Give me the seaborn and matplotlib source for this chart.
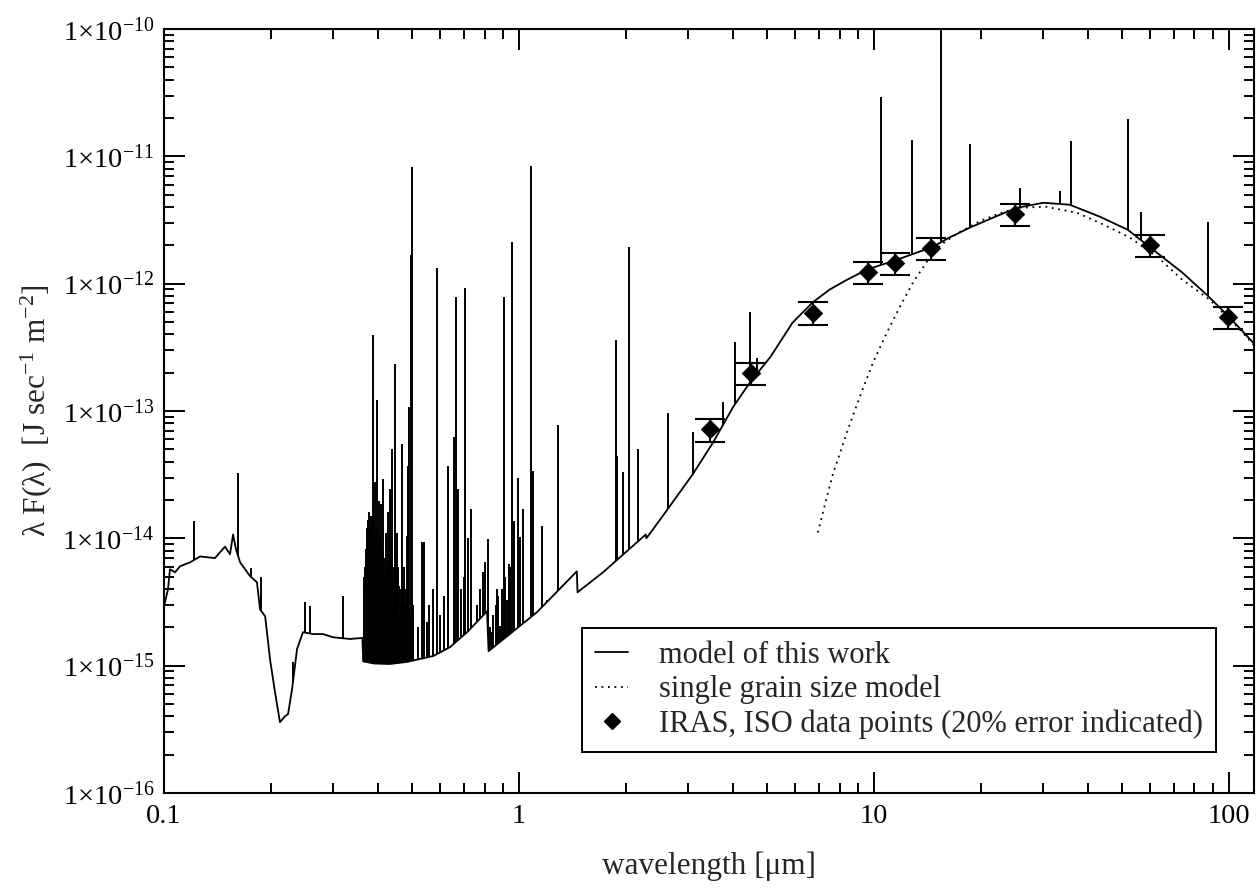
import numpy as np
import matplotlib
matplotlib.use('Agg')
import matplotlib.pyplot as plt
import seaborn as sns
from matplotlib.lines import Line2D
from matplotlib.ticker import LogLocator, NullFormatter

# model of this work: continuum (wavelength in micron, lambda F(lambda) in J/s/m^2)
cont_wl = [0.1, 0.1026, 0.1039, 0.1074, 0.1109, 0.1184, 0.1263, 0.1392, 0.1485, 0.1534,
           0.1565, 0.1595, 0.1638, 0.1747, 0.1827, 0.1864, 0.1927, 0.1989, 0.2054, 0.2121,
           0.2192, 0.2236, 0.2295, 0.2370, 0.2462, 0.2627, 0.2805, 0.2994, 0.3339, 0.3620,
           0.3640, 0.3900, 0.4327, 0.4838, 0.5734, 0.6397, 0.7141, 0.8128, 0.8210, 1.124,
           1.455, 1.462, 1.724, 2.275, 2.285, 2.538, 3.086, 3.522, 4.016, 4.490,
           5.115, 5.898, 6.71, 7.5, 8.38, 9.55, 11.6, 14.67, 16.3, 18.6,
           22.6, 25.3, 30.0, 35.6, 43.4, 51.9, 59.7, 74.0, 87.8, 100.0, 120.0]
cont_f = [2.93e-15, 3.98e-15, 5.71e-15, 5.41e-15, 6.03e-15, 6.48e-15, 7.2e-15, 7.0e-15, 8.6e-15, 7.5e-15,
          1.07e-14, 8.2e-15, 6.48e-15, 5.04e-15, 4.52e-15, 2.77e-15, 2.44e-15, 1.12e-15, 6.2e-16, 3.6e-16,
          4.0e-16, 4.17e-16, 6.55e-16, 1.35e-15, 1.83e-15, 1.77e-15, 1.77e-15, 1.67e-15, 1.62e-15, 1.65e-15,
          1.08e-15, 1.04e-15, 1.03e-15, 1.07e-15, 1.19e-15, 1.40e-15, 1.83e-15, 2.67e-15, 1.30e-15, 2.63e-15,
          5.5e-15, 3.77e-15, 5.4e-15, 1.07e-14, 1.0e-14, 1.49e-14, 3.18e-14, 5.66e-14, 1.08e-13, 1.70e-13,
          2.67e-13, 4.94e-13, 7.1e-13, 8.98e-13, 1.07e-12, 1.29e-12, 1.54e-12, 1.95e-12, 2.30e-12, 2.75e-12,
          3.47e-12, 3.94e-12, 4.32e-12, 4.17e-12, 3.35e-12, 2.65e-12, 1.95e-12, 1.22e-12, 7.9e-13, 5.5e-13, 3.2e-13]

# emission lines of the model (wavelength, peak value)
line_wl = [0.1215, 0.1616, 0.176, 0.188, 0.2309, 0.2495, 0.2577, 0.3193,
           0.3650, 0.3655, 0.3660, 0.3665, 0.3670, 0.3676, 0.3683, 0.3690, 0.3697, 0.3707,
           0.3712, 0.3720, 0.3734, 0.3742, 0.3750, 0.3760, 0.3771, 0.3785, 0.3798, 0.3810,
           0.3820, 0.3835, 0.3850, 0.3860, 0.3871, 0.3889, 0.3900, 0.3915, 0.3930, 0.3950,
           0.3965, 0.3980, 0.4000, 0.4010, 0.4030, 0.4040, 0.4050, 0.4068, 0.4075, 0.4085,
           0.4101, 0.4110, 0.4120, 0.4139, 0.4150, 0.4160, 0.4180, 0.4200, 0.4220, 0.4235,
           0.4250, 0.4265, 0.4276, 0.4290, 0.4300, 0.4320, 0.4332, 0.4350, 0.4363, 0.4389,
           0.4400, 0.4420, 0.4440, 0.4460, 0.4474, 0.4490, 0.4500, 0.4520, 0.4533, 0.4545,
           0.4560, 0.4575, 0.4592, 0.4620, 0.4640, 0.4660, 0.4682, 0.4700, 0.4711, 0.4744,
           0.4760, 0.4780, 0.4800, 0.4820, 0.4837, 0.4868, 0.4880, 0.4900, 0.4920, 0.4963,
           0.4990, 0.5005, 0.5015, 0.5200, 0.5332, 0.5400,
           0.5520, 0.5580, 0.5725, 0.5875, 0.6000, 0.6150, 0.6310, 0.6560, 0.6644, 0.6730,
           0.6870, 0.7000, 0.7046, 0.7170, 0.7325, 0.7616, 0.7750, 0.7917, 0.8000, 0.8178,
           0.8300, 0.8390, 0.8470, 0.8600, 0.8670, 0.8750, 0.8840, 0.8980, 0.9074, 0.9150,
           0.9250, 0.9371, 0.9460, 0.9557, 0.9681, 0.9936, 1.0065, 1.0260, 1.0840, 1.0950,
           1.1610, 1.1990, 1.2880, 1.8760, 1.8880, 1.9630, 2.0410, 2.1640, 2.6280, 3.0910,
           3.7550, 4.0590, 4.4750, 4.6800, 10.46, 12.80, 15.50, 18.70, 25.80, 33.40,
           35.90, 51.90, 56.60, 87.30]
line_peak = [1.36e-14, 3.24e-14, 5.8e-15, 5.0e-15, 1.07e-15, 3.15e-15, 2.93e-15, 3.5e-15,
             3.0e-15, 2.6e-15, 4.0e-15, 3.2e-15, 5.0e-15, 3.8e-15, 6.0e-15, 4.5e-15, 7.0e-15, 8.2e-15,
             6.0e-15, 9.5e-15, 7.5e-15, 1.2e-14, 8.0e-15, 1.4e-14, 1.0e-14, 1.6e-14, 1.2e-14, 9.0e-15,
             1.5e-14, 1.3e-14, 1.0e-14, 8.0e-15, 3.98e-13, 1.8e-14, 7.0e-15, 1.0e-14, 2.75e-14, 8.0e-15,
             1.2e-14, 1.23e-13, 6.0e-15, 9.0e-15, 1.95e-14, 7.0e-15, 7.0e-15, 1.0e-14, 5.0e-15, 1.85e-14,
             8.0e-15, 6.0e-15, 6.0e-15, 2.9e-14, 8.0e-15, 5.0e-15, 7.0e-15, 5.0e-15, 1.11e-14, 6.0e-15,
             4.0e-15, 4.5e-15, 1.6e-14, 7.0e-15, 3.5e-15, 5.0e-15, 2.42e-14, 9.0e-15, 6.5e-15, 4.99e-14,
             5.0e-15, 3.0e-15, 6.0e-15, 4.0e-15, 2.32e-13, 7.0e-15, 4.5e-15, 5.0e-15, 1.11e-14, 3.5e-15,
             3.0e-15, 6.0e-15, 4.2e-15, 2.5e-15, 3.0e-15, 4.0e-15, 5.46e-14, 3.5e-15, 4.0e-15, 6.0e-15,
             3.0e-15, 2.4e-15, 4.0e-15, 2.5e-15, 1.04e-14, 3.67e-14, 3.0e-15, 1.08e-13, 2.5e-15, 1.69e-12,
             3.0e-15, 8.3e-12, 3.0e-15, 2.0e-15, 9.3e-15, 9.3e-15,
             2.2e-15, 3.0e-15, 3.98e-15, 1.33e-12, 2.5e-15, 3.5e-15, 3.67e-14, 6.3e-14, 7.9e-13, 2.42e-14,
             4.0e-15, 5.0e-15, 9.3e-13, 1.0e-14, 1.69e-14, 3.0e-15, 4.0e-15, 5.4e-15, 6.5e-15, 9.8e-15,
             2.0e-15, 1.83e-15, 2.5e-15, 3.0e-15, 3.98e-15, 3.5e-15, 2.04e-15, 4.0e-15, 7.8e-13, 5.0e-15,
             3.3e-15, 6.25e-15, 6.0e-15, 2.13e-12, 1.36e-14, 3.0e-14, 1.02e-14, 1.69e-14, 8.4e-12, 3.35e-14,
             1.24e-14, 3.3e-15, 7.8e-14, 3.64e-13, 4.4e-14, 3.3e-14, 1.95e-12, 4.99e-14, 9.7e-14, 6.78e-14,
             1.17e-13, 3.5e-13, 6.0e-13, 2.63e-13, 2.93e-11, 1.35e-11, 1.05e-10, 1.25e-11, 5.66e-12, 5.3e-12,
             1.33e-11, 1.97e-11, 3.67e-12, 3.06e-12]

# single grain size model
grain_wl = [6.95, 7.28, 7.66, 8.39, 9.13, 9.94, 10.88, 11.84, 12.88, 14.1, 15.35, 17.47,
            19.9, 22.5, 25.3, 30.5, 37.3, 44.5, 52.6, 62.8, 74.0, 88.2, 105.4, 120.0]
grain_f = [1.11e-14, 1.85e-14, 3.18e-14, 6.78e-14, 1.30e-13, 2.40e-13, 4.13e-13, 6.61e-13,
           1.02e-12, 1.49e-12, 2.0e-12, 2.55e-12, 3.1e-12, 3.55e-12, 3.94e-12, 4.02e-12,
           3.61e-12, 2.90e-12, 2.30e-12, 1.63e-12, 1.07e-12, 7.5e-13, 4.6e-13, 3.1e-13]

# IRAS, ISO data points
obs_wl = [3.45, 4.5, 6.73, 9.62, 11.5, 14.5, 24.9, 59.9, 99.3]
obs_f = [7.16e-14, 2.0e-13, 5.93e-13, 1.24e-12, 1.46e-12, 1.91e-12, 3.54e-12, 2.02e-12, 5.51e-13]

xtick_vals = [0.1, 1, 10, 100]
xtick_labels = ['0.1', '1', '10', '100']
ytick_vals = [1e-16, 1e-15, 1e-14, 1e-13, 1e-12, 1e-11, 1e-10]
ytick_labels = ['1×10$^{-16}$', '1×10$^{-15}$', '1×10$^{-14}$', '1×10$^{-13}$',
                '1×10$^{-12}$', '1×10$^{-11}$', '1×10$^{-10}$']

sns.set_style('ticks')
plt.rcParams['font.family'] = ['Liberation Serif', 'DejaVu Serif']
plt.rcParams['mathtext.fontset'] = 'custom'
plt.rcParams['mathtext.rm'] = 'Liberation Serif'
plt.rcParams['mathtext.it'] = 'Liberation Serif:italic'
plt.rcParams['mathtext.default'] = 'regular'

fig = plt.figure(figsize=(12.57, 8.96), dpi=100)
ax = fig.add_axes([0.1305, 0.115, 0.867, 0.8526])
ax.set_xscale('log')
ax.set_yscale('log')

sns.lineplot(x=cont_wl, y=cont_f, ax=ax, color='k', lw=1.3, estimator=None, sort=False)

# lines sit on top of the continuum
lw_arr = np.array(line_wl)
base = 10 ** np.interp(np.log10(lw_arr), np.log10(cont_wl), np.log10(cont_f))
ax.vlines(lw_arr, base, line_peak, color='k', lw=1.4)

sns.lineplot(x=grain_wl, y=grain_f, ax=ax, color='k', lw=1.3, ls=(0, (1, 2.6)),
             estimator=None, sort=False)

obs_f_arr = np.array(obs_f)
ax.errorbar(obs_wl, obs_f, yerr=0.2 * obs_f_arr, fmt='none', ecolor='k',
            elinewidth=1.5, capsize=11, capthick=1.5, zorder=4)
sns.scatterplot(x=obs_wl, y=obs_f, ax=ax, marker='D', s=85, color='k',
                edgecolor='k', zorder=5)

ax.set_xlim(0.1, 117.6)
ax.set_ylim(1e-16, 1e-10)
ax.set_xticks(xtick_vals)
ax.set_xticklabels(xtick_labels)
ax.set_yticks(ytick_vals)
ax.set_yticklabels(ytick_labels)
ax.xaxis.set_minor_locator(LogLocator(base=10, subs=np.arange(2, 10), numticks=20))
ax.yaxis.set_minor_locator(LogLocator(base=10, subs=np.arange(2, 10), numticks=20))
ax.xaxis.set_minor_formatter(NullFormatter())
ax.yaxis.set_minor_formatter(NullFormatter())

ax.tick_params(which='both', direction='in', top=True, right=True, width=1.4,
               colors='k', labelsize=20.5)
ax.tick_params(which='major', length=15)
ax.tick_params(which='minor', length=7.5)
ax.tick_params(axis='x', pad=8)
ax.tick_params(axis='y', pad=7)
for sp in ax.spines.values():
    sp.set_linewidth(1.5)
    sp.set_color('k')

ax.set_xlabel('wavelength [μm]', fontsize=22.5, labelpad=16)
ax.set_ylabel('λ F(λ)  [J sec$^{-1}$ m$^{-2}$]', fontsize=22.5, labelpad=6)

handles = [Line2D([], [], color='k', lw=1.3),
           Line2D([], [], color='k', lw=1.3, ls=(0, (1, 2.6))),
           Line2D([], [], color='k', marker='D', ls='none', markersize=8.5)]
labels = ['model of this work', 'single grain size model',
          'IRAS, ISO data points (20% error indicated)']
leg = ax.legend(handles, labels, loc='upper left', bbox_to_anchor=(0.463, 0.299),
                bbox_transform=fig.transFigure, fontsize=22, frameon=True,
                fancybox=False, edgecolor='k', framealpha=1, handlelength=1.1,
                handletextpad=1.0, labelspacing=0.16, borderpad=0.42, borderaxespad=0)
leg.get_frame().set_linewidth(1.4)

fig.savefig('out.png', dpi=100)
